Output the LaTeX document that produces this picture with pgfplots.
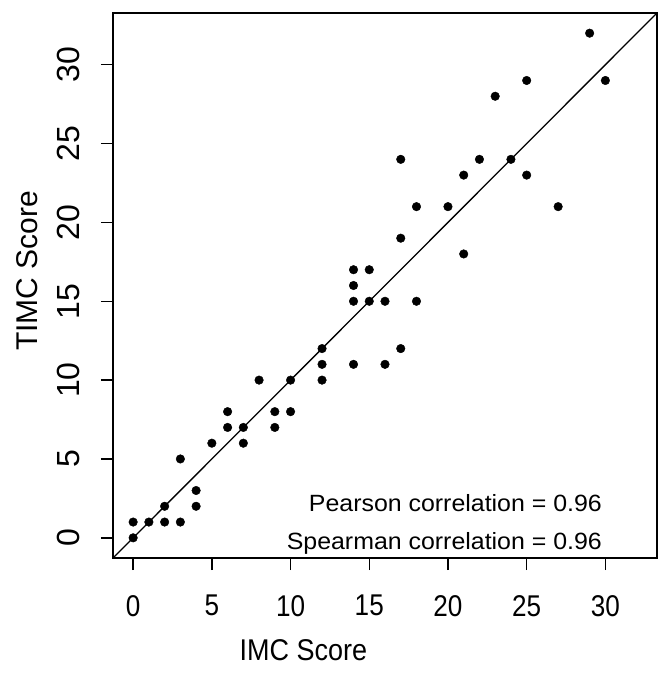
\documentclass[border=0pt]{standalone}
\usepackage{pgfplots}
\pgfplotsset{compat=1.18}
\usepackage{fontspec}
\setmainfont{Liberation Sans}
\pgfplotstableread{
x y
0 0
0 1
1 1
2 1
3 1
2 2
4 2
4 3
3 5
5 6
7 6
6 7
7 7
9 7
6 8
9 8
10 8
8 10
10 10
12 10
12 11
14 11
16 11
12 12
17 12
14 15
15 15
16 15
18 15
14 16
14 17
15 17
21 18
17 19
18 21
20 21
27 21
21 23
25 23
17 24
22 24
24 24
23 28
25 29
30 29
29 32
}\scores
\begin{document}
\begin{tikzpicture}
\useasboundingbox (0,0) rectangle (660bp,685bp);
\begin{axis}[
  at={(113bp,127bp)}, anchor=south west,
  scale only axis, width=544bp, height=545bp,
  xmin=-1.28, xmax=33.28, ymin=-1.28, ymax=33.28,
  axis line style={line width=1.5bp},
  xtick={0,5,...,30}, ytick={0,5,...,30},
  xtick pos=bottom, ytick pos=left,
  tick align=outside, major tick length=12bp,
  tick style={line width=1.4bp, black},
  xticklabel style={font=\fontsize{30bp}{36bp}\selectfont, anchor=north, inner sep=0pt},
  xticklabel={\scalebox{0.87}[1]{\pgfmathprintnumber[assume math mode=true]{\tick}}},
  yticklabel style={font=\fontsize{32bp}{38bp}\selectfont, rotate=90, anchor=south, inner sep=0pt},
  yticklabel={\pgfmathprintnumber[assume math mode=true]{\tick}},
  xticklabel shift=25bp, yticklabel shift=21bp,
  xlabel={\scalebox{0.9}[1]{IMC Score}},
  ylabel={TIMC Score},
  xlabel style={font=\fontsize{30bp}{36bp}\selectfont, at={([yshift=-102bp]axis description cs:0.350,0)}, anchor=base},
  ylabel style={font=\fontsize{30bp}{36bp}\selectfont, at={([xshift=-75bp]axis description cs:0,0.527)}, anchor=base},
]
\addplot[black, line width=1.3bp] coordinates {(-1.28,-1.28) (33.28,33.28)};
\addplot[only marks, mark=*, mark size=4.3bp, black] table[x=x, y=y] {\scores};
\node[anchor=base east, font=\fontsize{23.5bp}{28bp}\selectfont] at (axis cs:30,1.64) {\scalebox{1.06}[1]{Pearson correlation = 0.96}};
\node[anchor=base east, font=\fontsize{23.5bp}{28bp}\selectfont] at (axis cs:30,-0.77) {\scalebox{1.06}[1]{Spearman correlation = 0.96}};
\end{axis}
\end{tikzpicture}
\end{document}
